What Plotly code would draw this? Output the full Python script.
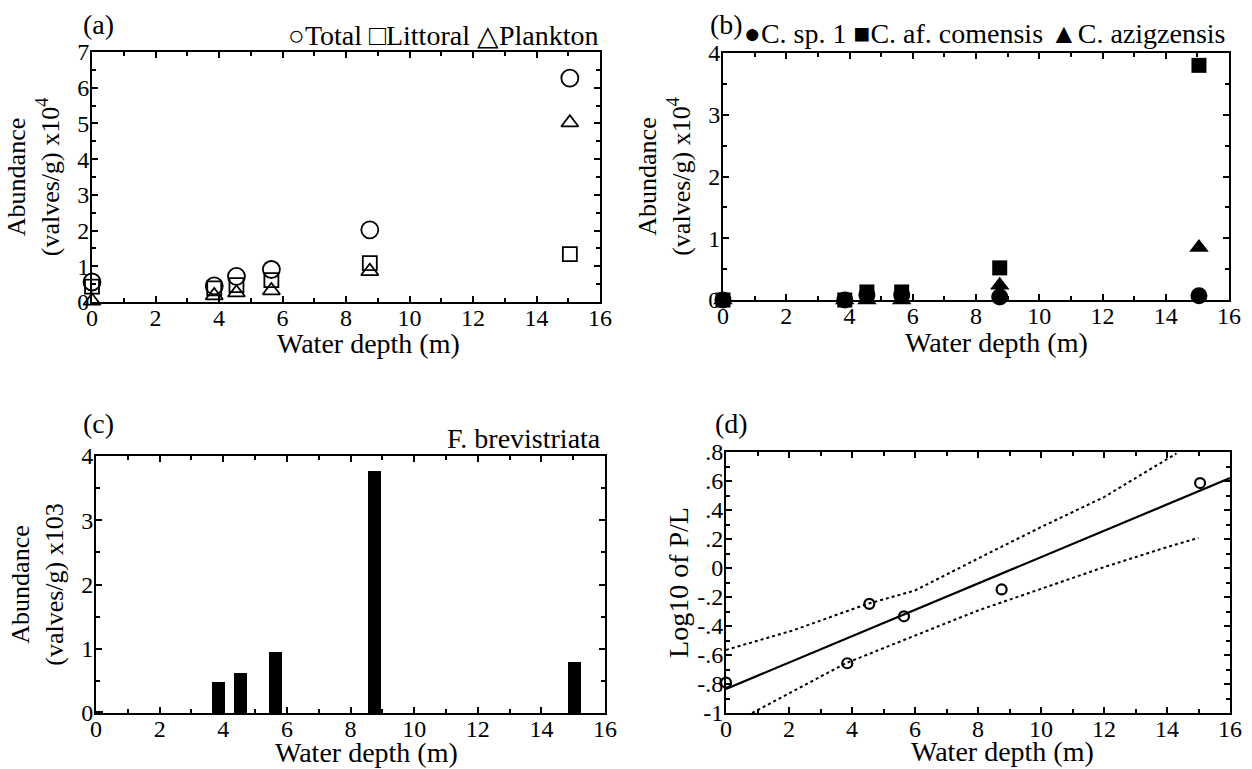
import plotly.graph_objects as go

# ---------------- data ----------------
depth = [0, 3.85, 4.55, 5.65, 8.75, 15.05]

# (a) abundance x10^4
total = [0.56, 0.45, 0.72, 0.91, 2.02, 6.27]
littoral = [0.43, 0.38, 0.47, 0.61, 1.09, 1.34]
plankton = [0.03, 0.18, 0.26, 0.32, 0.86, 5.02]

# (b) abundance x10^4
c_sp1 = [0.0, 0.0, 0.08, 0.08, 0.05, 0.07]
c_comensis = [0.0, 0.0, 0.13, 0.13, 0.52, 3.80]
c_azigzensis = [0.0, 0.0, 0.0, 0.0, 0.24, 0.85]

# (c) F. brevistriata x10^3
f_brev = [0.02, 0.48, 0.62, 0.95, 3.77, 0.80]

# (d) log10 P/L with regression and confidence bands
log_pl = [-0.79, -0.657, -0.247, -0.333, -0.148, 0.586]
fit_x = [0, 16]
fit_y = [-0.834, 0.62]
upper_x = [0, 2.1, 4.5, 6, 8.3, 10, 12, 14.3]
upper_y = [-0.565, -0.432, -0.247, -0.155, 0.098, 0.282, 0.489, 0.79]
lower_x = [0.83, 2, 3.8, 6, 8, 10, 12, 14, 15]
lower_y = [-1.0, -0.864, -0.657, -0.466, -0.293, -0.144, 0.006, 0.144, 0.208]

x_ticks = [0, 2, 4, 6, 8, 10, 12, 14, 16]
d_yticks = [0.8, 0.6, 0.4, 0.2, 0, -0.2, -0.4, -0.6, -0.8, -1]
d_yticktext = [".8", ".6", ".4", ".2", "0", "-.2", "-.4", "-.6", "-.8", "-1"]
x_title = "Water depth (m)"

FONT = "Liberation Serif, Times New Roman, serif"
TICKF = dict(family=FONT, size=24, color="black")
TITLEF = dict(family=FONT, size=28, color="black")
YTITLEF = dict(family=FONT, size=26, color="black")

fig = go.Figure()

# (a)
fig.add_trace(go.Scatter(x=depth, y=total, mode="markers", name="Total",
                         marker=dict(symbol="circle-open", size=17, color="black", line=dict(width=1.8)),
                         xaxis="x", yaxis="y", cliponaxis=False))
fig.add_trace(go.Scatter(x=depth, y=littoral, mode="markers", name="Littoral",
                         marker=dict(symbol="square-open", size=14, color="black", line=dict(width=1.8)),
                         xaxis="x", yaxis="y", cliponaxis=False))
fig.add_trace(go.Scatter(x=depth, y=plankton, mode="markers", name="Plankton",
                         marker=dict(symbol="triangle-up-open", size=15, color="black", line=dict(width=1.8)),
                         xaxis="x", yaxis="y", cliponaxis=False))
# (b)
fig.add_trace(go.Scatter(x=depth, y=c_sp1, mode="markers", name="C. sp. 1",
                         marker=dict(symbol="circle", size=17, color="black"),
                         xaxis="x2", yaxis="y2", cliponaxis=False))
fig.add_trace(go.Scatter(x=depth, y=c_comensis, mode="markers", name="C. af. comensis",
                         marker=dict(symbol="square", size=15, color="black"),
                         xaxis="x2", yaxis="y2", cliponaxis=False))
fig.add_trace(go.Scatter(x=depth, y=c_azigzensis, mode="markers", name="C. azigzensis",
                         marker=dict(symbol="triangle-up", size=17, color="black"),
                         xaxis="x2", yaxis="y2", cliponaxis=False))
# (c)
fig.add_trace(go.Bar(x=depth, y=f_brev, width=0.42, name="F. brevistriata",
                     marker=dict(color="black", line=dict(width=0)),
                     xaxis="x3", yaxis="y3"))
# (d)
fig.add_trace(go.Scatter(x=upper_x, y=upper_y, mode="lines", name="upper",
                         line=dict(color="black", width=2, dash="dot"),
                         xaxis="x4", yaxis="y4"))
fig.add_trace(go.Scatter(x=lower_x, y=lower_y, mode="lines", name="lower",
                         line=dict(color="black", width=2, dash="dot"),
                         xaxis="x4", yaxis="y4"))
fig.add_trace(go.Scatter(x=fit_x, y=fit_y, mode="lines", name="fit",
                         line=dict(color="black", width=2.2),
                         xaxis="x4", yaxis="y4"))
fig.add_trace(go.Scatter(x=depth, y=log_pl, mode="markers", name="Log10 P/L",
                         marker=dict(symbol="circle-open", size=10, color="black", line=dict(width=2.2)),
                         xaxis="x4", yaxis="y4", cliponaxis=False))

# body margin removed by post_script, so figure fills the window at (0, 0)
W, H = 1252, 769


def px_x(p):
    return p / W


def px_y(p):
    return 1 - p / H


def xaxis(dom, anchor):
    return dict(domain=dom, anchor=anchor, range=[0, 16], tickvals=x_ticks,
                ticks="inside", ticklen=6, tickwidth=1.5, tickcolor="black",
                minor=dict(dtick=1, tick0=0, ticks="inside", ticklen=4, tickcolor="black"),
                showline=True, linecolor="black", linewidth=2, mirror="ticks",
                showgrid=False, zeroline=False, tickfont=TICKF, automargin=False,
                ticklabelstandoff=-7)


def yaxis(dom, anchor, rng, dtick, minor, title, standoff=10):
    return dict(domain=dom, anchor=anchor, range=rng, dtick=dtick, tick0=0,
                ticks="inside", ticklen=6, tickwidth=1.5, tickcolor="black",
                minor=dict(dtick=minor, ticks="inside", ticklen=4, tickcolor="black"),
                showline=True, linecolor="black", linewidth=2, mirror="ticks",
                showgrid=False, zeroline=False, tickfont=TICKF, automargin=False,
                ticklabelstandoff=-4,
                title=dict(text=title, font=YTITLEF, standoff=standoff))


dom_a_x = [px_x(92), px_x(600)]
dom_a_y = [px_y(302), px_y(52)]
dom_b_x = [px_x(723), px_x(1229)]
dom_b_y = [px_y(300), px_y(53)]
dom_c_x = [px_x(96), px_x(605)]
dom_c_y = [px_y(713), px_y(456)]
dom_d_x = [px_x(726), px_x(1230)]
dom_d_y = [px_y(713), px_y(452)]

ya4 = yaxis(dom_d_y, "x4", [-1, 0.8], None, None, "Log10 of P/L", standoff=0)
ya4.pop("dtick")
ya4.pop("tick0")
ya4["tickvals"] = d_yticks
ya4["ticktext"] = d_yticktext
ya4["title"]["font"] = TITLEF
ya4["minor"] = dict(tickvals=[0.7, 0.5, 0.3, 0.1, -0.1, -0.3, -0.5, -0.7, -0.9],
                    ticks="inside", ticklen=4, tickcolor="black")

fig.update_layout(
    width=W, height=H,
    margin=dict(l=0, r=0, t=0, b=0),
    paper_bgcolor="white", plot_bgcolor="white",
    showlegend=False, bargap=0,
    font=dict(family=FONT, color="black"),
    xaxis=xaxis(dom_a_x, "y"),
    yaxis=yaxis(dom_a_y, "x", [0, 7], 1, 0.5, "Abundance<br>(valves/g) x10<sup>4</sup>"),
    xaxis2=xaxis(dom_b_x, "y2"),
    yaxis2=yaxis(dom_b_y, "x2", [0, 4], 1, 0.5, "Abundance<br>(valves/g) x10<sup>4</sup>"),
    xaxis3=xaxis(dom_c_x, "y3"),
    yaxis3=yaxis(dom_c_y, "x3", [0, 4], 1, 0.5, "Abundance<br>(valves/g) x103"),
    xaxis4=xaxis(dom_d_x, "y4"),
    yaxis4=ya4,
)

annots = [
    dict(text="(a)", x=px_x(81), y=px_y(24), xanchor="left", yanchor="middle", font=TITLEF),
    dict(text="(b)", x=px_x(708), y=px_y(24), xanchor="left", yanchor="middle", font=TITLEF),
    dict(text="(c)", x=px_x(81), y=px_y(423), xanchor="left", yanchor="middle", font=TITLEF),
    dict(text="(d)", x=px_x(713), y=px_y(423), xanchor="left", yanchor="middle", font=TITLEF),
    dict(text="○Total □Littoral △Plankton", x=px_x(601), y=px_y(35),
         xanchor="right", yanchor="middle", font=TITLEF),
    dict(text="●C. sp. 1 ■C. af. comensis ▲C. azigzensis", x=px_x(1227), y=px_y(33),
         xanchor="right", yanchor="middle", font=TITLEF),
    dict(text="F. brevistriata", x=px_x(603), y=px_y(438),
         xanchor="right", yanchor="middle", font=TITLEF),
    # x-axis titles
    dict(text=x_title, x=px_x(368), y=px_y(343), xanchor="center", yanchor="middle", font=TITLEF),
    dict(text=x_title, x=px_x(996), y=px_y(342), xanchor="center", yanchor="middle", font=TITLEF),
    dict(text=x_title, x=px_x(366), y=px_y(752), xanchor="center", yanchor="middle", font=TITLEF),
    dict(text=x_title, x=px_x(1002), y=px_y(751), xanchor="center", yanchor="middle", font=TITLEF),
]
for a in annots:
    a.update(xref="paper", yref="paper", showarrow=False)
fig.update_layout(annotations=annots)

fig.write_html("out.html",
               config={"displayModeBar": False},
               post_script="document.body.style.margin='0';document.body.style.overflow='hidden';")
